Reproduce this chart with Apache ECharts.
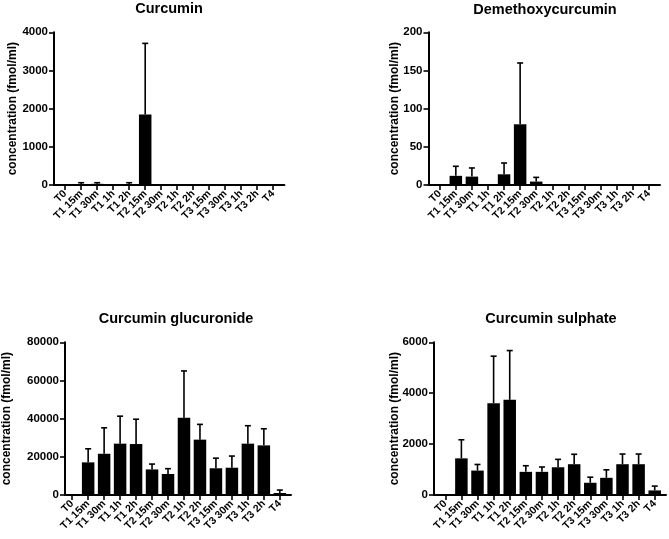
<!DOCTYPE html>
<html>
<head>
<meta charset="utf-8">
<script src="https://cdn.jsdelivr.net/npm/echarts@6/dist/echarts.min.js"></script>
<style>html,body{margin:0;padding:0;background:#fff}#c{width:669px;height:539px}</style>
</head>
<body>
<div id="c"></div>
<script>
const categories = ['T0','T1 15m','T1 30m','T1 1h','T1 2h','T2 15m','T2 30m','T2 1h','T2 2h','T3 15m','T3 30m','T3 1h','T3 2h','T4'];

const titles = ['Curcumin','Demethoxycurcumin','Curcumin glucuronide','Curcumin sulphate'];
const yTickMax = [4000, 200, 80000, 6000];
const yTickStep = [1000, 50, 20000, 2000];

const curcuminMean = [0, 25, 30, 0, 25, 1850, 0, 0, 0, 0, 0, 0, 0, 0];
const curcuminSD   = [0, 35, 30, 0, 35, 1860, 0, 0, 0, 0, 0, 0, 0, 0];

const demethoxyMean = [0, 12, 11, 0, 14, 79.5, 4.5, 0, 0, 0, 0, 0, 0, 0];
const demethoxySD   = [0, 12.5, 11.3, 0, 14.8, 80.3, 5.5, 0, 0, 0, 0, 0, 0, 0];

const glucuronideMean = [0, 17100, 21600, 26900, 26700, 13400, 11000, 40500, 29000, 14000, 14300, 26900, 26000, 1050];
const glucuronideSD   = [0, 7100, 13600, 14400, 13000, 2800, 2800, 24500, 8000, 5300, 6100, 9400, 8700, 1550];

const sulphateMean = [0, 1440, 960, 3610, 3740, 910, 910, 1090, 1210, 480, 675, 1210, 1210, 180];
const sulphateSD   = [0, 730, 240, 1845, 1935, 240, 190, 310, 390, 220, 315, 400, 400, 170];

const means = [curcuminMean, demethoxyMean, glucuronideMean, sulphateMean];
const sds = [curcuminSD, demethoxySD, glucuronideSD, sulphateSD];

const FONT = "'Liberation Sans', Arial, Helvetica, sans-serif";

// panel frame layout (pixels): full axis-line extent
const frames = [
  {left: 54, top: 32.3, width: 230.4, height: 152.7},
  {left: 428.5, top: 32.3, width: 231.5, height: 152.7},
  {left: 61, top: 342.3, width: 230, height: 152.7},
  {left: 434, top: 342.3, width: 232, height: 152.7}
];
const nameGaps = [35, 28, 52, 33];
const titlePos = [{x: 169, y: 1.5}, {x: 545, y: 2}, {x: 176, y: 311}, {x: 551, y: 311}];

const option = {
  animation: false,
  backgroundColor: '#fff',
  title: titles.map((t, i) => ({
    text: t, left: titlePos[i].x, top: titlePos[i].y, textAlign: 'center', padding: 0,
    textStyle: {fontFamily: FONT, fontWeight: 'bold', fontSize: 14.5, color: '#000'}
  })),
  grid: [], xAxis: [], yAxis: [], series: []
};

frames.forEach((f, i) => {
  const band = f.width / 14.4;
  // frame grid: axis lines, y ticks/labels/name
  option.grid.push({left: f.left, top: f.top, width: f.width, height: f.height});
  // data grid: categories centred as in the reference
  option.grid.push({left: f.left + 0.2 * band, top: f.top, width: 14 * band, height: f.height});
  const gFrame = 2 * i, gData = 2 * i + 1;

  option.xAxis.push({
    type: 'value', gridIndex: gFrame, min: 0, max: 1,
    splitLine: {show: false}, axisTick: {show: false}, axisLabel: {show: false},
    axisLine: {show: true, onZero: false, lineStyle: {color: '#000', width: 2}}
  });
  option.xAxis.push({
    type: 'category', gridIndex: gData, data: categories, boundaryGap: true,
    axisLine: {show: false},
    axisTick: {show: true, alignWithLabel: true, interval: 0, length: 5, lineStyle: {color: '#000', width: 1.6}},
    axisLabel: {
      show: true, interval: 0, rotate: 45, margin: 7,
      fontFamily: FONT, fontWeight: 'bold', fontSize: 10.5, color: '#000'
    }
  });
  option.yAxis.push({
    type: 'value', gridIndex: gFrame, min: 0, max: yTickMax[i], interval: yTickStep[i],
    name: 'concentration (fmol/ml)', nameLocation: 'middle', nameGap: nameGaps[i], nameMoveOverlap: false,
    nameTextStyle: {fontFamily: FONT, fontWeight: 'bold', fontSize: 12, color: '#000'},
    splitLine: {show: false},
    axisLine: {show: true, lineStyle: {color: '#000', width: 2}},
    axisTick: {show: true, length: 5, lineStyle: {color: '#000', width: 1.6}},
    axisLabel: {margin: 6, formatter: v => String(v), fontFamily: FONT, fontWeight: 'bold', fontSize: 11.5, color: '#000'}
  });
  option.yAxis.push({
    type: 'value', gridIndex: gData, min: 0, max: yTickMax[i], interval: yTickStep[i],
    show: false, splitLine: {show: false}
  });

  const xi = 2 * i + 1, yi = 2 * i + 1;
  option.series.push({
    type: 'bar', xAxisIndex: xi, yAxisIndex: yi, barWidth: 12.5,
    itemStyle: {color: '#000'},
    data: means[i],
    z: 2
  });
  option.series.push({
    type: 'custom', xAxisIndex: xi, yAxisIndex: yi, z: 3,
    data: means[i].map((v, k) => [k, v, v + sds[i][k]]),
    renderItem: (params, api) => {
      const x = api.value(0), lo = api.value(1), hi = api.value(2);
      if (hi <= lo) return null;
      const p0 = api.coord([x, lo]);
      const p1 = api.coord([x, hi]);
      const cap = 3;
      return {
        type: 'group',
        children: [
          {type: 'line', shape: {x1: p0[0], y1: p0[1], x2: p1[0], y2: p1[1]}, style: {stroke: '#000', lineWidth: 1.6}},
          {type: 'line', shape: {x1: p1[0] - cap, y1: p1[1], x2: p1[0] + cap, y2: p1[1]}, style: {stroke: '#000', lineWidth: 1.6}}
        ]
      };
    }
  });
});

const chart = echarts.init(document.getElementById('c'), null, {renderer: 'canvas'});
chart.setOption(option);
</script>
</body>
</html>
